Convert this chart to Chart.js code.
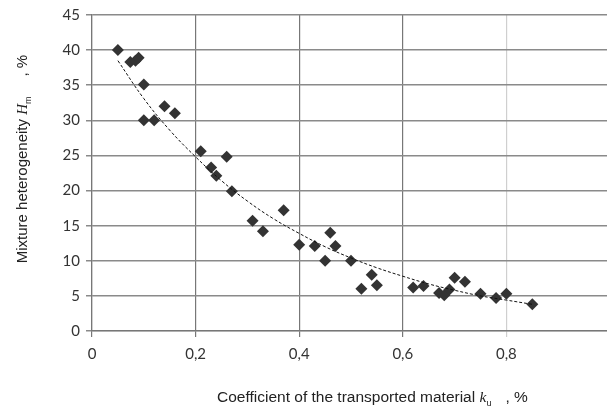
<!DOCTYPE html>
<html>
<head>
<meta charset="utf-8">
<script src="https://cdn.jsdelivr.net/npm/chart.js@4"></script>
<style>
  body { margin: 0; background: #fff; overflow: hidden; }
  #wrap { position: relative; width: 620px; height: 413px; }
  .axis-title { position: absolute; font-family: "Liberation Sans", Arial, sans-serif; color: #222; white-space: nowrap; }
  #yTitle { font-size: 15px; left: -128px; top: 149px; width: 300px; height: 20px; line-height: 20px; text-align: center; transform: rotate(-90deg); }
  #xTitle { font-size: 15.5px; left: 217px; top: 388px; }
  .axis-title i { font-family: "Liberation Serif", serif; }
  sub { font-size: 9px; }
  .gap { display: inline-block; width: 14px; }
  #yTitle .gap { width: 20px; }
</style>
</head>
<body>
<div id="wrap">
  <canvas id="chart" width="620" height="413"></canvas>
  <div class="axis-title" id="yTitle">Mixture heterogeneity <i>H</i><sub>m</sub><span class="gap"></span>, %</div>
  <div class="axis-title" id="xTitle">Coefficient of the transported material <i>k</i><sub>u</sub><span class="gap"></span>, %</div>
</div>
<script>
const pointsX = [0.05, 0.074, 0.084, 0.09, 0.1, 0.1, 0.12, 0.14, 0.16, 0.21, 0.26, 0.23, 0.24, 0.27,
  0.31, 0.33, 0.37, 0.4, 0.43, 0.46, 0.47, 0.45, 0.5, 0.52, 0.54, 0.55, 0.62, 0.64, 0.67, 0.68,
  0.69, 0.70, 0.72, 0.75, 0.78, 0.80, 0.85];
const pointsY = [40, 38.3, 38.5, 38.9, 35.1, 30, 30, 32, 31, 25.6, 24.8, 23.3, 22.1, 19.9,
  15.7, 14.2, 17.2, 12.3, 12.1, 14, 12.1, 10, 10, 6, 8, 6.5, 6.2, 6.4, 5.4, 5.1,
  5.9, 7.6, 7, 5.3, 4.7, 5.3, 3.8];

// trend curve
const trendX = [0.05, 0.1, 0.15, 0.2, 0.25, 0.3, 0.35, 0.4, 0.45, 0.5, 0.55, 0.6, 0.65, 0.7, 0.75, 0.8, 0.85];
const trendY = [38.5, 33.1, 28.6, 24.8, 21.4, 18.5, 16.0, 13.9, 12.0, 10.4, 9.0, 7.8, 6.7, 5.8, 5.0, 4.4, 3.8];

const xTicks = [0, 0.2, 0.4, 0.6, 0.8];
const yTicks = [0, 5, 10, 15, 20, 25, 30, 35, 40, 45];

const tickFont = { family: 'Lato, "Open Sans", sans-serif', size: 15 };

const ctx = document.getElementById('chart').getContext('2d');
new Chart(ctx, {
  type: 'scatter',
  data: {
    datasets: [
      {
        label: 'trend',
        type: 'line',
        data: trendX.map((x, i) => ({ x: x, y: trendY[i] })),
        borderColor: '#111',
        borderWidth: 1,
        borderDash: [3, 2],
        pointRadius: 0,
        tension: 0.4,
        fill: false
      },
      {
        label: 'data',
        data: pointsX.map((x, i) => ({ x: x, y: pointsY[i] })),
        pointStyle: 'rectRot',
        pointRadius: 6,
        backgroundColor: '#333',
        borderColor: '#333',
        borderWidth: 0
      }
    ]
  },
  options: {
    responsive: false,
    animation: false,
    layout: { padding: { top: 15, right: 10, left: 0, bottom: 0 } },
    plugins: { legend: { display: false }, tooltip: { enabled: false } },
    scales: {
      x: {
        type: 'linear',
        min: 0,
        max: 1,
        afterBuildTicks: (s) => { s.ticks = xTicks.map(v => ({ value: v })); },
        afterFit: (s) => { s.height = 82; },
        ticks: {
          font: tickFont,
          color: '#333',
          padding: 8,
          maxRotation: 0,
          callback: (v) => String(Math.round(v * 10) / 10).replace('.', ',')
        },
        grid: {
          color: (c) => (c.tick && c.tick.value === 0.8 ? '#cfcfcf' : '#777'),
          lineWidth: 1.2,
          tickLength: 6,
          drawOnChartArea: true
        },
        border: { color: '#777', width: 1.2 }
      },
      y: {
        min: 0,
        max: 45,
        afterBuildTicks: (s) => { s.ticks = yTicks.map(v => ({ value: v })); },
        afterFit: (s) => { s.width = 92; },
        ticks: { font: tickFont, color: '#333', padding: 6 },
        grid: { color: '#8a8a8a', lineWidth: 1.5, tickLength: 6 },
        border: { color: '#777', width: 1.2 }
      }
    }
  }
});
</script>
</body>
</html>
